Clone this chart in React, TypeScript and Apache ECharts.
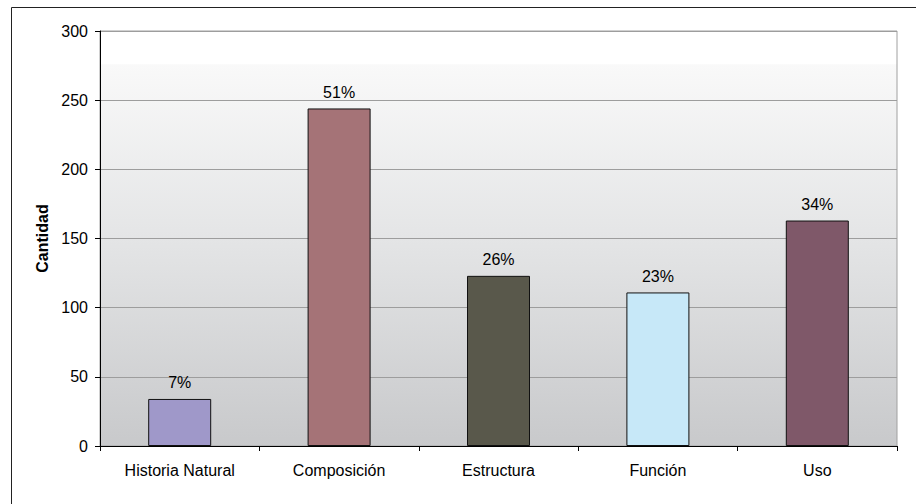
import React, { useEffect, useRef } from "react";
import * as echarts from "echarts";

const categories = ["Historia Natural", "Composición", "Estructura", "Función", "Uso"];
const values = [34, 244, 123, 111, 163];
const percentLabels = ["7%", "51%", "26%", "23%", "34%"];
const barColors = ["#9f98c9", "#a57377", "#59584b", "#c7e8f8", "#7f5869"];
const yAxisName = "Cantidad";

export default function App() {
  const ref = useRef<HTMLDivElement>(null);
  useEffect(() => {
    if (!ref.current) return;
    const chart = echarts.init(ref.current, undefined, { renderer: "svg" });
    const font = "Liberation Sans, Arial, sans-serif";
    chart.setOption({
      animation: false,
      backgroundColor: "#ffffff",
      graphic: [
        {
          type: "rect",
          shape: { x: 11.5, y: 7.5, width: 1000, height: 1000 },
          style: { fill: "none", stroke: "#222", lineWidth: 1 },
          silent: true,
        },
      ],
      grid: {
        left: 100,
        top: 31,
        right: 19,
        bottom: 58,
        show: true,
        borderColor: "#a0a0a0",
        borderWidth: 1,
        backgroundColor: new echarts.graphic.LinearGradient(0, 0, 0, 1, [
          { offset: 0, color: "#ffffff" },
          { offset: 0.08, color: "#ffffff" },
          { offset: 0.081, color: "#f9f9f9" },
          { offset: 0.5, color: "#e4e5e6" },
          { offset: 1, color: "#c8c9cb" },
        ]),
      },
      xAxis: {
        type: "category",
        data: categories,
        boundaryGap: true,
        axisLine: { show: true, lineStyle: { color: "#000", width: 1 } },
        axisTick: { show: true, alignWithLabel: false, length: 5, lineStyle: { color: "#000" } },
        axisLabel: {
          interval: 0,
          color: "#000",
          fontSize: 16,
          fontFamily: font,
          margin: 16,
        },
        splitLine: { show: false },
      },
      yAxis: {
        type: "value",
        min: 0,
        max: 300,
        interval: 50,
        name: yAxisName,
        nameLocation: "middle",
        nameGap: 48,
        nameTextStyle: { fontSize: 16, fontWeight: "bold", fontFamily: font, color: "#000" },
        axisLine: { show: true, lineStyle: { color: "#000", width: 1 } },
        axisTick: { show: true, length: 5, lineStyle: { color: "#000" } },
        axisLabel: { color: "#000", fontSize: 16, fontFamily: font, margin: 12 },
        splitLine: { show: true, lineStyle: { color: "#9d9d9d", width: 1 } },
      },
      series: [
        {
          type: "bar",
          barWidth: 63,
          data: values.map((v, i) => ({
            value: v,
            itemStyle: { color: barColors[i], borderColor: "#111", borderWidth: 1 },
            label: { formatter: percentLabels[i] },
          })),
          label: {
            show: true,
            position: "top",
            distance: 8,
            color: "#000",
            fontSize: 16,
            fontFamily: font,
          },
        },
      ],
    });
    return () => chart.dispose();
  }, []);
  return (
    <div
      ref={ref}
      style={{ position: "absolute", left: 0, top: 0, width: 916, height: 504 }}
    />
  );
}
